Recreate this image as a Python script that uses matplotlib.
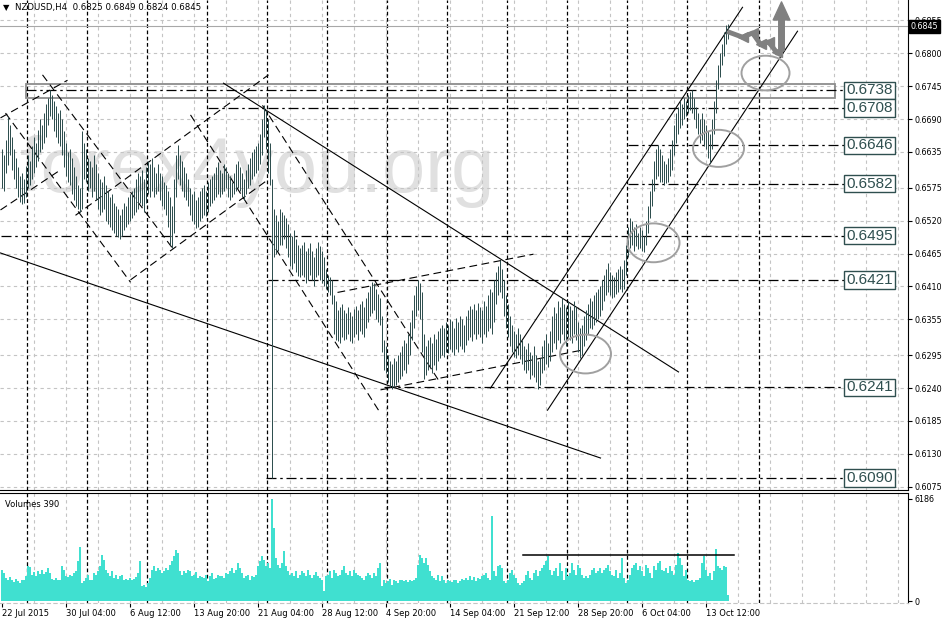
import numpy as np
import matplotlib
matplotlib.use("Agg")
import matplotlib.pyplot as plt
from matplotlib.patches import Ellipse, Rectangle
from matplotlib.transforms import blended_transform_factory

# ---------------- data ----------------
title_symbol = "NZDUSD,H4  0.6825 0.6849 0.6824 0.6845"

high_pips = [
    6640, 6630, 6655, 6693, 6680, 6660, 6640, 6625, 6610, 6595,
    6600, 6590, 6612, 6630, 6620, 6645, 6660, 6650, 6672, 6690,
    6680, 6700, 6715, 6725, 6738, 6730, 6720, 6712, 6700, 6705,
    6690, 6670, 6650, 6635, 6640, 6625, 6610, 6595, 6580, 6575,
    6670, 6650, 6640, 6625, 6620, 6610, 6630, 6615, 6600, 6590,
    6585, 6595, 6580, 6570, 6560, 6565, 6550, 6545, 6540, 6530,
    6540, 6550, 6545, 6560, 6565, 6570, 6575, 6590, 6600, 6595,
    6605, 6590, 6610, 6620, 6615, 6625, 6610, 6600, 6615, 6600,
    6595, 6585, 6580, 6570, 6560, 6545, 6590, 6630, 6646, 6630,
    6620, 6610, 6600, 6590, 6575, 6565, 6570, 6555, 6560, 6570,
    6575, 6580, 6570, 6585, 6590, 6595, 6600, 6610, 6618, 6605,
    6600, 6615, 6610, 6600, 6595, 6585, 6600, 6615, 6620, 6610,
    6600, 6590, 6605, 6615, 6625, 6635, 6640, 6645, 6650, 6665,
    6690, 6713, 6705, 6690, 6650, 6590, 6540, 6530, 6520, 6540,
    6535, 6530, 6525, 6515, 6500, 6495, 6505, 6490, 6480, 6475,
    6480, 6485, 6470, 6475, 6482, 6470, 6460, 6475, 6485, 6478,
    6470, 6460, 6440, 6430, 6425, 6420, 6395, 6385, 6370, 6375,
    6380, 6370, 6365, 6375, 6368, 6360, 6372, 6378, 6370, 6380,
    6385, 6375, 6390, 6400, 6410, 6418, 6415, 6405, 6398, 6390,
    6360, 6320, 6310, 6295, 6285, 6280, 6290, 6285, 6295, 6300,
    6310, 6320, 6315, 6330, 6350, 6370, 6395, 6410, 6421, 6415,
    6400, 6330, 6310, 6320, 6325, 6315, 6330, 6322, 6335, 6340,
    6345, 6340, 6350, 6345, 6355, 6352, 6340, 6358, 6350, 6360,
    6355, 6345, 6360, 6370, 6378, 6372, 6380, 6370, 6382, 6375,
    6370, 6385, 6378, 6395, 6405, 6400, 6420, 6435, 6445, 6455,
    6440, 6420, 6395, 6380, 6360, 6345, 6335, 6330, 6340, 6330,
    6320, 6310, 6305, 6315, 6300, 6295, 6310, 6295, 6285, 6290,
    6310, 6320, 6330, 6315, 6335, 6360, 6375, 6365, 6385, 6375,
    6390, 6380, 6375, 6385, 6378, 6370, 6385, 6375, 6350, 6340,
    6345, 6360, 6370, 6380, 6390, 6385, 6395, 6400, 6405, 6410,
    6420, 6430, 6440, 6450, 6435, 6430, 6425, 6435, 6440, 6445,
    6440, 6455, 6480, 6510, 6525, 6520, 6510, 6515, 6500, 6510,
    6505, 6495, 6520, 6545, 6570, 6590, 6620, 6640, 6646, 6640,
    6630, 6620, 6615, 6625, 6640, 6655, 6680, 6700, 6710, 6720,
    6715, 6725, 6720, 6730, 6735, 6738, 6725, 6710, 6700, 6690,
    6700, 6690, 6680, 6670, 6665, 6690, 6720, 6755, 6780, 6800,
    6815, 6835, 6848, 6849,
]

low_pips = [
    6575, 6570, 6600, 6613, 6630, 6605, 6590, 6575, 6560, 6552,
    6548, 6550, 6560, 6575, 6580, 6590, 6600, 6610, 6620, 6635,
    6640, 6650, 6660, 6680, 6695, 6690, 6670, 6660, 6650, 6645,
    6630, 6610, 6595, 6585, 6580, 6565, 6555, 6545, 6540, 6534,
    6540, 6590, 6585, 6570, 6575, 6560, 6570, 6555, 6540, 6530,
    6535, 6540, 6520, 6515, 6510, 6505, 6500, 6495, 6492, 6489,
    6495, 6505, 6510, 6515, 6520, 6525, 6530, 6535, 6540, 6550,
    6545, 6535, 6550, 6565, 6560, 6570, 6560, 6565, 6570, 6555,
    6545, 6540, 6530, 6510, 6480, 6474, 6500, 6560, 6590, 6580,
    6570, 6560, 6555, 6545, 6530, 6520, 6515, 6508, 6510, 6520,
    6525, 6530, 6528, 6535, 6545, 6550, 6555, 6560, 6565, 6560,
    6565, 6570, 6575, 6560, 6555, 6560, 6565, 6570, 6575, 6570,
    6560, 6555, 6565, 6575, 6580, 6590, 6595, 6600, 6605, 6615,
    6630, 6660, 6640, 6600, 6580, 6090, 6460, 6465, 6470, 6480,
    6480, 6490, 6475, 6460, 6445, 6440, 6450, 6435, 6428, 6425,
    6430, 6425, 6415, 6420, 6430, 6420, 6410, 6425, 6430, 6420,
    6415, 6410, 6405, 6400, 6395, 6380, 6330, 6320, 6318, 6315,
    6325, 6320, 6322, 6330, 6318, 6315, 6325, 6330, 6320, 6335,
    6330, 6325, 6340, 6350, 6360, 6365, 6370, 6355, 6350, 6345,
    6300, 6270, 6265, 6250, 6241, 6238, 6242, 6245, 6250, 6255,
    6260, 6270, 6265, 6280, 6295, 6320, 6340, 6360, 6370, 6355,
    6300, 6255, 6262, 6270, 6275, 6265, 6278, 6270, 6285, 6290,
    6295, 6292, 6300, 6298, 6305, 6300, 6295, 6305, 6300, 6310,
    6305, 6300, 6312, 6320, 6325, 6318, 6330, 6322, 6330, 6325,
    6315, 6330, 6325, 6335, 6340, 6330, 6350, 6380, 6395, 6400,
    6390, 6360, 6340, 6325, 6310, 6300, 6292, 6290, 6295, 6288,
    6280, 6270, 6265, 6270, 6255, 6262, 6258, 6250, 6238, 6245,
    6265, 6270, 6280, 6275, 6285, 6300, 6315, 6305, 6320, 6315,
    6330, 6320, 6310, 6325, 6320, 6315, 6330, 6320, 6300, 6290,
    6295, 6310, 6320, 6330, 6340, 6338, 6345, 6350, 6355, 6360,
    6370, 6385, 6395, 6400, 6395, 6390, 6392, 6398, 6400, 6405,
    6400, 6405, 6430, 6460, 6475, 6480, 6470, 6478, 6472, 6475,
    6470, 6468, 6480, 6500, 6525, 6545, 6570, 6590, 6595, 6585,
    6585, 6580, 6583, 6585, 6595, 6605, 6630, 6650, 6665, 6675,
    6680, 6690, 6695, 6700, 6705, 6700, 6690, 6675, 6665, 6650,
    6655, 6645, 6640, 6625, 6616, 6640, 6665, 6700, 6740, 6760,
    6780, 6795, 6815, 6824,
]

volumes = [
    1850, 1700, 1400, 1300, 1450, 1250, 1150, 1350, 1200, 1100,
    1250, 1300, 1500, 2100, 2050, 1600, 1750, 1500, 1800, 1650,
    1900, 1650, 1750, 2000, 1700, 1350, 1300, 1400, 1250, 1300,
    2100, 1900, 1500, 1450, 1600, 1500, 1700, 1800, 2400, 3300,
    1100, 1200, 1400, 1550, 1300, 1250, 1700, 1600, 1800, 2100,
    2800, 2500, 1900, 1700, 1500, 1800, 1400, 1600, 1350, 1500,
    1550, 1300, 1350, 1250, 1400, 1300, 1350, 1450, 1700, 2400,
    900, 1000, 850, 1100, 1400, 1900, 2100, 1800, 2000, 1900,
    1700, 1800, 2000, 1900, 2200, 2400, 2700, 3100, 2900, 1800,
    1600, 1800, 1700, 1900, 1800, 1500, 1550, 1750, 1400, 1500,
    1450, 1400, 1600, 1200, 1500, 1700, 1350, 1400, 1600, 1500,
    1500, 1400, 1700, 1650, 1800, 2000, 1700, 1900, 2300, 2000,
    1700, 1400, 1500, 1600, 1300, 1500, 1450, 1600, 2100, 2400,
    2700, 2500, 2100, 2300, 2000, 6186, 4400, 2600, 2200, 2000,
    2300, 3000, 2100, 1800, 1600, 1700, 1500, 1800, 1400, 1600,
    1800, 1700, 1500, 1900, 1600, 1400, 1600, 1750, 1500, 1400,
    1300, 600, 1500, 1600, 1800, 1400, 1900, 1700, 1500, 1600,
    1900, 2100, 1700, 1600, 1800, 1500, 1900, 1700, 1600, 1500,
    1400, 1300, 1500, 1700, 1600, 1400, 1700, 1500, 2000, 2300,
    900, 1300, 1100, 1200, 1350, 1000, 1300, 1200, 1100, 1250,
    1250, 1200, 1300, 1150, 1300, 1200, 1250, 1400, 2200, 2800,
    2600, 2300, 2600, 2200, 1800, 1500, 1400, 1300, 1600, 1200,
    1500, 1300, 1100, 1250, 1200, 1150, 1300, 1250, 1100, 1200,
    1350, 1300, 1400, 1250, 1500, 1300, 1450, 1200, 1400, 1350,
    1500, 1600, 1700, 1400, 1300, 5150, 1800, 1500, 2100, 2200,
    2000, 1200, 1100, 1300, 1700, 1900, 1600, 1400, 1100, 1000,
    1100, 1200, 1600, 1800, 1400, 1300, 1700, 1900, 1500, 1800,
    2000, 2200, 2400, 2700, 1900, 1600, 1800, 2000, 1500, 2300,
    1800, 1300, 2000, 1500, 1700, 2300, 1900, 1600, 2200, 2000,
    1600, 1400, 1500, 1400, 1600, 1900, 2000, 1700, 1800, 2000,
    1700, 1900, 2000, 2200, 1800, 1600, 1500, 1900, 1400, 1700,
    2600, 1400, 1100, 1300, 1600, 2000, 2200, 2300, 1900, 2100,
    1800, 1500, 2200, 2000, 1700, 1400, 2100, 1900, 2300, 2400,
    1900, 1800, 2000, 1700, 2100, 1800, 1600, 2200, 2900, 2600,
    2200, 1500, 1900, 1300, 1200, 1250, 1150, 1300, 1250, 1400,
    2300, 2700, 1900, 1500, 1700, 1300, 1800, 3150, 2100, 2000,
    1900, 2100, 2050, 390,
]

price_ticks = [0.6075, 0.6130, 0.6185, 0.6240, 0.6295, 0.6355, 0.6410, 0.6465,
               0.6520, 0.6575, 0.6635, 0.6690, 0.6745, 0.6800, 0.6855]
time_tick_bars = [0, 32, 64, 96, 128, 160, 192, 224, 256, 288, 320, 352]
time_labels = ["22 Jul 2015", "30 Jul 04:00", "6 Aug 12:00", "13 Aug 20:00",
               "21 Aug 04:00", "28 Aug 12:00", "4 Sep 20:00", "14 Sep 04:00",
               "21 Sep 12:00", "28 Sep 20:00", "6 Oct 04:00", "13 Oct 12:00"]
week_separators = [12.5, 42.5, 72.5, 102.5, 132.5, 162.5, 192.5, 222.5,
                   252.5, 282.5, 312.5, 342.5, 378.5]

levels = [0.6738, 0.6708, 0.6646, 0.6582, 0.6495, 0.6421, 0.6241, 0.6090]
level_starts = [12, 103, 313, 313, -0.5, 133, 191, 132]
level_end = 421
level_label_x = 434

zone_x = (12, 416.5)
zone_p = (0.6725, 0.6748)

solid_lines = [
    ((-0.5, 0.6466), (299.5, 0.6123)),
    ((111, 0.6750), (338.5, 0.6267)),
    ((244.5, 0.6240), (370.5, 0.6877)),
    ((273, 0.6203), (398, 0.6837)),
]
dashed_lines = [
    ((168, 0.6400), (266, 0.6464)),
    ((189.5, 0.6237), (289.5, 0.6303)),
    ((-0.5, 0.6692), (33, 0.6755)),
    ((-0.5, 0.6538), (29.5, 0.6605)),
    ((2, 0.6700), (64.5, 0.6417)),
    ((20.5, 0.6764), (85.5, 0.6474)),
    ((64.5, 0.6421), (133, 0.6588)),
    ((37, 0.6529), (133.5, 0.6764)),
    ((130.5, 0.6713), (219.5, 0.6248)),
    ((94.5, 0.6697), (188.5, 0.6203)),
]
# (center bar, center price, width in bars, height in price)
ellipses = [
    (292, 0.6297, 25.5, 0.0065),
    (326, 0.6483, 26, 0.0065),
    (358.5, 0.6641, 25.5, 0.0062),
    (382, 0.6767, 24, 0.0058),
]
forecast_x = [364, 370.5, 375.5, 379.5, 383.5, 387.5]
forecast_p = [0.6835, 0.6827, 0.6834, 0.6815, 0.6819, 0.6802]
up_arrow_x = 390
up_arrow_p = (0.6805, 0.6886)

vol_line_x = (260.5, 366)
vol_line_v = 2800
last_price = 0.6845
vol_max = 6186
vol_last = 390

# ---------------- drawing ----------------
highs = np.array(high_pips) / 10000.0
lows = np.array(low_pips) / 10000.0
idx = np.arange(len(highs))

fig = plt.figure(figsize=(9.43, 6.19), dpi=100)
fig.patch.set_facecolor("white")
ax = fig.add_axes([0.0, 0.2084, 0.9629, 0.7916])
axv = fig.add_axes([0.0, 0.02585, 0.9629, 0.1777])

# x range in bar units; bars land on pixel centres (2 px per bar)
XL = (-0.75, 453.25)
ax.set_xlim(*XL)
ax.set_ylim(0.60695, 0.68892)
axv.set_xlim(*XL)
axv.set_ylim(-121, 6545)

grid_col = "#C4C4C4"
grid_ls = (0, (3, 3))
for a in (ax, axv):
    for k in range(1, 29):
        a.axvline(16 * k, color=grid_col, ls=grid_ls, lw=0.8, zorder=1)
    for s in week_separators:
        a.axvline(s, color="black", ls=(0, (3, 2)), lw=0.9, zorder=1.5)
for t in price_ticks:
    ax.axhline(t, color=grid_col, ls=grid_ls, lw=0.8, zorder=1)

# watermark
ax.text(9, 0.6568, "forex4you.org", fontsize=56, family="Liberation Sans",
        color="#E0E0E0", ha="left", va="baseline", zorder=0.5)

# current price line
ax.axhline(last_price, color="#A8A8A8", lw=0.8, zorder=1.6)

# zone rectangle
ax.add_patch(Rectangle((zone_x[0], zone_p[0]), zone_x[1] - zone_x[0], zone_p[1] - zone_p[0],
                       fill=False, ec="#8C8C8C", lw=1.3, zorder=2))

# levels
for lv, st in zip(levels, level_starts):
    ax.plot([st, level_end], [lv, lv], color="black", lw=0.9,
            ls=(0, (8, 3, 2, 3)), zorder=2)
    ax.text(level_label_x, lv, f"{lv:.4f}", ha="center", va="center", fontsize=11,
            family="Liberation Sans", color="#2F4F4F", zorder=6,
            bbox=dict(boxstyle="square,pad=0.12", fc="white", ec="#2F4F4F", lw=1.0))

# trend lines
for (x0, p0), (x1, p1) in solid_lines:
    ax.plot([x0, x1], [p0, p1], color="black", lw=0.8, zorder=2.5)
for (x0, p0), (x1, p1) in dashed_lines:
    ax.plot([x0, x1], [p0, p1], color="black", lw=0.8, ls=(0, (7, 4)), zorder=2.5)

# ellipses
for cx, cp, w, h in ellipses:
    ax.add_patch(Ellipse((cx, cp), w, h, fill=False, ec="#A0A0A0", lw=1.4, zorder=4))

# price bars (thin 1px lines like the terminal)
ax.vlines(idx, lows, highs, color="#2F4F4F", lw=0.72, zorder=3)

# forecast arrows
ax.plot(forecast_x, forecast_p, color="#808080", lw=3.5, zorder=4.5)
ax.plot(forecast_x[1:], forecast_p[1:], ls="none", marker="<", ms=7,
        color="#808080", zorder=4.6)
ax.annotate("", xy=(up_arrow_x, up_arrow_p[1]), xytext=(up_arrow_x, up_arrow_p[0]),
            arrowprops=dict(facecolor="#808080", edgecolor="#808080", width=4,
                            headwidth=12, headlength=13, shrink=0), zorder=4.6)

# axes style (main)
ax.yaxis.tick_right()
ax.set_yticks(price_ticks)
ax.set_yticklabels([f"{t:.4f}" for t in price_ticks])
ax.tick_params(axis="y", labelsize=5.8, length=3, pad=1.5, colors="black")
ax.set_xticks([])
ax.spines["left"].set_visible(False)
ax.spines["top"].set_visible(False)
ax.spines["right"].set_color("black")
ax.spines["bottom"].set_color("black")

# current price box
bt = blended_transform_factory(ax.transAxes, ax.transData)
ax.text(1.003, last_price, f"{last_price:.4f}", transform=bt, color="white",
        fontsize=5.8, ha="left", va="center", clip_on=False, zorder=10,
        bbox=dict(boxstyle="square,pad=0.2", fc="black", ec="black"))

# title
ax.text(0.003, 0.9855, "\u25BC", transform=ax.transAxes, fontsize=6,
        ha="left", va="center", color="black", zorder=10)
ax.text(0.0165, 0.9855, title_symbol, transform=ax.transAxes, fontsize=6.2,
        ha="left", va="center", color="black", zorder=10)

# volume panel
axv.bar(idx, volumes, width=1.0, color="#40E0D0", lw=0, zorder=3)
axv.plot(vol_line_x, [vol_line_v, vol_line_v], color="black", lw=1.1, zorder=4)
axv.text(0.005, 0.90, f"Volumes {vol_last}", transform=axv.transAxes, fontsize=6,
         ha="left", va="center", color="black")
axv.yaxis.tick_right()
axv.set_yticks([0, vol_max])
axv.set_yticklabels(["0", str(vol_max)])
axv.tick_params(axis="y", labelsize=5.8, length=3, pad=1.5)
axv.set_xticks(time_tick_bars)
axv.set_xticklabels(time_labels)
for lbl in axv.get_xticklabels():
    lbl.set_ha("left")
axv.tick_params(axis="x", labelsize=6, length=3, pad=1.5)
axv.spines["left"].set_visible(False)
axv.spines["top"].set_color("black")
axv.spines["right"].set_color("black")
axv.spines["bottom"].set_color(grid_col)
axv.spines["bottom"].set_linestyle((0, (3, 3)))

fig.savefig("out.png", dpi=100, facecolor="white")
